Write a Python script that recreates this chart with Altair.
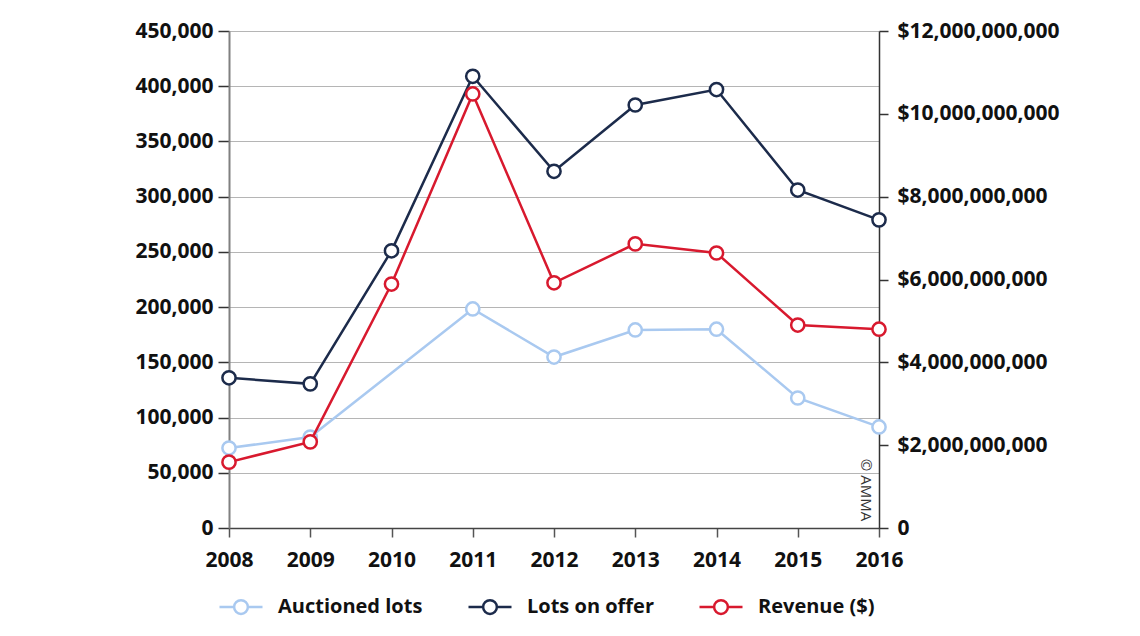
import altair as alt
import pandas as pd

years = [2008, 2009, 2010, 2011, 2012, 2013, 2014, 2015, 2016]
auctioned_lots = [72400, 82400, None, 198300, 154800, 179300, 180000, 117700, 91500]
lots_on_offer = [136000, 130500, 251000, 409000, 323000, 383000, 397000, 306000, 279000]
revenue = [1.59e9, 2.08e9, 5.89e9, 10.48e9, 5.92e9, 6.86e9, 6.64e9, 4.90e9, 4.80e9]

series_names = ["Auctioned lots", "Lots on offer", "Revenue ($)"]
series_colors = ["#a9c9f0", "#1c2b4b", "#d8192e"]

left_ticks = [0, 50000, 100000, 150000, 200000, 250000, 300000, 350000, 400000, 450000]
right_ticks = [0, 2e9, 4e9, 6e9, 8e9, 10e9, 12e9]

rows = []
for name, vals in [("Auctioned lots", auctioned_lots), ("Lots on offer", lots_on_offer)]:
    for y, v in zip(years, vals):
        if v is not None:
            rows.append({"year": y, "series": name, "value": v})
left_df = pd.DataFrame(rows)
right_df = pd.DataFrame({"year": years, "series": "Revenue ($)", "value": revenue})

FONT = "Open Sans"
legend_path = ("M-1,0L-0.32,0M0.32,0L1,0M0.32,0A0.32,0.32,0,1,1,-0.32,0"
               "A0.32,0.32,0,1,1,0.32,0")

color = alt.Color(
    "series:N",
    scale=alt.Scale(domain=series_names, range=series_colors),
    legend=alt.Legend(
        title=None, orient="none", direction="horizontal",
        legendX=-11, legendY=553,
        symbolType=legend_path, symbolSize=1849, symbolStrokeWidth=2.5,
        symbolFillColor="white", symbolOpacity=1,
        labelFont=FONT, labelFontSize=20, labelFontWeight="bold", labelColor="#111",
        labelOffset=14, columnPadding=40, labelLimit=400,
    ),
)

x = alt.X(
    "year:Q",
    scale=alt.Scale(domain=[2008, 2016], nice=False, zero=False),
    axis=alt.Axis(
        values=years, format="d", title=None, grid=False,
        domainColor="#444", domainWidth=1.5, tickColor="#555", tickWidth=1.5,
        tickSize=9, labelPadding=12, labelFont=FONT, labelFontSize=21,
        labelFontWeight="bold", labelColor="#111", labelFlush=False,
    ),
)

y_left = alt.Y(
    "value:Q",
    scale=alt.Scale(domain=[0, 450000], nice=False),
    axis=alt.Axis(
        values=left_ticks, format=",d", title=None, grid=True,
        gridColor="#b5b5b5", gridWidth=1, domainColor="#808080", domainWidth=2,
        tickColor="#333", tickWidth=1.5, tickSize=11, labelPadding=5,
        labelFont=FONT, labelFontSize=21, labelFontWeight="bold", labelColor="#111",
    ),
)

y_right = alt.Y(
    "value:Q",
    scale=alt.Scale(domain=[0, 12e9], nice=False),
    axis=alt.Axis(
        orient="right", values=right_ticks, title=None, grid=False,
        labelExpr="datum.value == 0 ? '0' : '$' + format(datum.value, ',d')",
        domainColor="#333", domainWidth=1.5, tickColor="#333", tickWidth=1.5,
        tickSize=9, labelPadding=9, labelFont=FONT, labelFontSize=21,
        labelFontWeight="bold", labelColor="#111",
    ),
)

left_base = alt.Chart(left_df).encode(x=x, y=y_left, color=color)
left_lines = left_base.mark_line(strokeWidth=2.5)
left_points = left_base.mark_point(filled=False, fill="white", size=175,
                                   strokeWidth=2.5, opacity=1)

credit = alt.Chart(pd.DataFrame({"t": ["© AMMA"]})).mark_text(
    angle=90, font=FONT, fontSize=15, color="#333", align="center", baseline="middle"
).encode(text="t:N", x=alt.value(637), y=alt.value(459))

left = alt.layer(left_lines, left_points, credit)

right_base = alt.Chart(right_df).encode(x=x, y=y_right, color=color)
right = alt.layer(
    right_base.mark_line(strokeWidth=2.5),
    right_base.mark_point(filled=False, fill="white", size=175, strokeWidth=2.5, opacity=1),
)

chart = alt.layer(left, right).resolve_scale(y="independent").properties(
    width=650, height=497,
    autosize=alt.AutoSizeParams(type="none"),
    padding={"left": 221, "top": 23, "right": 240, "bottom": 90},
).configure_view(stroke=None)

chart.save("out.html", embed_options={"renderer": "svg", "actions": False})
